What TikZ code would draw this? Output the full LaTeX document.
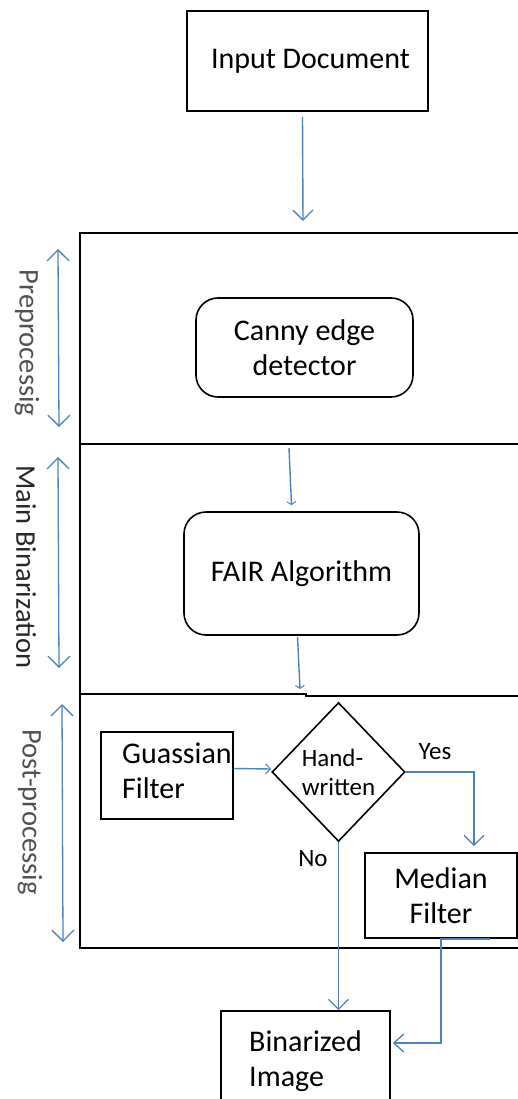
\documentclass[tikz,border=0pt]{standalone}
\usepackage{fontspec}
\setmainfont{Carlito}
\usetikzlibrary{arrows.meta,shapes.geometric,calc}
\definecolor{arrowblue}{RGB}{79,129,189}
\definecolor{lblgray}{RGB}{80,80,80}
\newcommand\fbig{\fontsize{30}{35}\selectfont}
\newcommand\fmid{\fontsize{25}{29}\selectfont}
\newcommand\fside{\fontsize{28.5}{33}\selectfont}
\begin{document}
\begin{tikzpicture}[x=1pt,y=-1pt,
  blk/.style={draw=black,line width=1.6pt,inner sep=0pt},
  rbox/.style={blk,rounded corners=22pt,align=center,font=\fbig},
  sbox/.style={blk,align=center,font=\fbig},
  frameline/.style={draw=black,line width=2pt},
  bighead/.style={-{Straight Barb[length=10pt,width=20pt,line width=1.3pt]}},
  tinyhead/.style={-{Straight Barb[length=3pt,width=9pt,line width=1pt]}},
  flow/.style={draw=arrowblue,line width=1.4pt},
  span/.style={draw=arrowblue,line width=1.3pt,{Straight Barb[length=11pt,width=22pt,line width=1.3pt]}-{Straight Barb[length=11pt,width=22pt,line width=1.3pt]}},
  sidelbl/.style={rotate=-90,font=\fside,inner sep=0pt},
  txt/.style={inner sep=0pt}
]
\useasboundingbox (0,0) rectangle (518,1099);
\clip (0,0) rectangle (518,1099);

% swimlane frame
\draw[frameline] (530,233) -- (80,233) -- (80,948) -- (530,948);
\draw[frameline] (80,444) -- (530,444);
\draw[frameline] (80,694) -- (306,694) -- (306,696) -- (530,696);

% nodes
\node[sbox,minimum width=241pt,minimum height=100pt] (input) at (307.5,61) {\hspace*{6pt}Input Document};
\node[rbox,minimum width=217pt,minimum height=99pt] (canny) at (304.5,347.5) {Canny edge\\detector};
\node[rbox,minimum width=235pt,minimum height=123pt] (fair) at (301.5,573.5) {FAIR Algorithm};
\node[blk,minimum width=132pt,minimum height=87pt] (gauss) at (167,775.5) {};
\node[txt,anchor=west,align=left,font=\fbig] (gausstxt) at (122,771) {Guassian\\Filter};
\node[blk,diamond,minimum width=133pt,minimum height=139pt,align=left,font=\fmid] (hand) at (338.5,772) {Hand-\\written};
\node[sbox,minimum width=152pt,minimum height=85pt] (median) at (441,895.5) {Median\\Filter};
\node[blk,minimum width=169pt,minimum height=100pt,align=left,font=\fbig] (bin) at (305.5,1061) {Binarized\\Image};

% labels
\node[txt,font=\fmid] (yes) at (435,752) {Yes};
\node[txt,font=\fmid] (no) at (313,859) {No};
\node[sidelbl,text=lblgray] (lpre) at (27,343) {Preprocessig};
\node[sidelbl,text=black!85] (lmain) at (26,567) {Main Binarization};
\node[sidelbl,text=lblgray] (lpost) at (30,812) {Post-processig};

% span arrows
\coordinate (preA) at (58,249);  \coordinate (preB) at (59,427);
\coordinate (mainA) at (58,457); \coordinate (mainB) at (59,668);
\coordinate (postA) at (62,704); \coordinate (postB) at (63,942);
\draw[span] (preA) -- (preB);
\draw[span] (mainA) -- (mainB);
\draw[span] (postA) -- (postB);

% connectors
\coordinate (inEnd) at (303,221);
\draw[flow,bighead] ($(input.south)+(-5,5)$) -- (inEnd);
\coordinate (cfA) at (289,448);
\draw[flow,tinyhead] (cfA) -- ($(fair.north)+(-10,-6)$);
\coordinate (fpEnd) at (300,689);
\draw[flow,tinyhead] ($(fair.south)+(-4,1)$) -- (fpEnd);
\draw[flow,-{Straight Barb[length=5pt,width=10pt,line width=1pt]}] ($(gauss.east)+(0,-7)$) -- ($(hand.west)+(0,-3)$);
\draw[flow,bighead] (hand.east) -| ($(median.north)+(33,-6)$);
\draw[flow,bighead] (hand.south) -- (hand.south |- bin.north);
\draw[flow,-{Straight Barb[length=10pt,width=18pt,line width=1.3pt]}] ($(median.south)+(49,0)$) -- (median.south) |- ($(bin.east)+(2,-18)$);
\end{tikzpicture}
\end{document}
